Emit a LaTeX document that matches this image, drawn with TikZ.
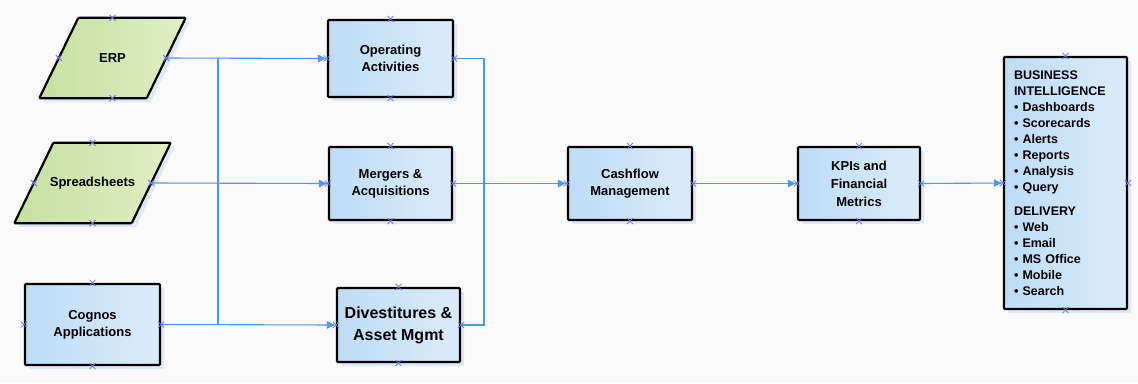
\documentclass[tikz,border=0pt]{standalone}
\usepackage{fontspec}
\setmainfont{Liberation Sans}
\usepackage{tikz}
\usetikzlibrary{arrows.meta,shadows}

\definecolor{bgc}{RGB}{250,250,251}
\definecolor{linkc}{RGB}{74,152,240}
\definecolor{crossc}{RGB}{104,116,232}
\definecolor{boxl}{RGB}{190,220,245}
\definecolor{boxr}{RGB}{218,236,251}
\definecolor{grnl}{RGB}{198,224,160}
\definecolor{grnr}{RGB}{224,238,196}
\definecolor{shadc}{RGB}{204,222,242}

\pgfdeclarelayer{back}
\pgfsetlayers{back,main}

\begin{document}
\begin{tikzpicture}[x=1pt, y=-1pt,
    font=\fontsize{13}{17}\selectfont\bfseries,
    box/.style={draw=black, line width=2.2pt, rounded corners=1pt, align=center,
        left color=boxl, right color=boxr, inner sep=2pt,
        drop shadow={shadow xshift=4pt, shadow yshift=-4pt, fill=shadc, opacity=0.6}},
    para/.style={minimum height=80pt, inner sep=0pt},
    parafill/.style={box, left color=grnl, right color=grnr},
    link/.style={draw=linkc, line width=1.1pt},
    flow/.style={link, -{Latex[length=9pt,width=8pt]}},
    cross/.style={draw=crossc, line width=0.8pt}]
    \useasboundingbox (0,0) rectangle (1138,383);

    \node[para, minimum width=107pt] (erp) at (112.5,58) {ERP};
    \node[para, minimum width=117pt] (sheets) at (92.5,183) {Spreadsheets};
    \node[box, minimum width=135pt, minimum height=81pt] (cog) at (92.5,324.5) {Cognos\\Applications};

    \node[box, minimum width=125pt, minimum height=77pt] (ops) at (390.5,58.5) {Operating\\Activities};
    \node[box, minimum width=123pt, minimum height=73pt] (merg) at (390.5,183.5) {Mergers \&\\Acquisitions};
    \node[box, minimum width=123pt, minimum height=74pt, font=\fontsize{16}{22}\selectfont\bfseries]
        (div) at (398.5,325) {Divestitures \&\\Asset Mgmt};

    \node[box, minimum width=124pt, minimum height=73pt] (cash) at (630,183.5) {Cashflow\\Management};
    \node[box, minimum width=122pt, minimum height=73pt, font=\fontsize{13}{18}\selectfont\bfseries]
        (kpi) at (859,183.5) {KPIs and\\Financial\\Metrics};

    \node[box, minimum width=123pt, minimum height=252pt, text width=103pt, align=left,
        font=\fontsize{12.5}{16}\selectfont\bfseries] (bi) at (1065.5,183)
        {BUSINESS\\INTELLIGENCE\\• Dashboards\\• Scorecards\\• Alerts\\• Reports\\• Analysis\\• Query\\[8pt]
         DELIVERY\\• Web\\• Email\\• MS Office\\• Mobile\\• Search};

    \begin{pgfonlayer}{back}
        \fill[bgc] (0,0) rectangle (1138,383);
        \foreach \n in {erp,sheets}
            \path[parafill] ([xshift=-19.5pt]\n.south west) -- ([xshift=-19.5pt]\n.south east)
                -- ([xshift=19.5pt]\n.north east) -- ([xshift=19.5pt]\n.north west) -- cycle;
    \end{pgfonlayer}

    \coordinate (spl) at (218,0);
    \coordinate (jn) at (484,184);

    \draw[link] (erp.east -| spl) -- (cog.east -| spl);
    \draw[flow] (erp.east) -- (ops.west);
    \draw[flow] (sheets.east) -- (merg.west);
    \draw[flow] (cog.east) -- (div.west);
    \draw[link] (ops.east) -| (jn) |- (div.east);
    \draw[flow] (merg.east) -- (cash.west);
    \draw[flow] (cash.east) -- (kpi.west);
    \draw[flow] (kpi.east) -- (bi.west);

    \foreach \n in {erp,sheets,cog,ops,merg,div,cash,kpi,bi}
        \foreach \a in {north,south,east,west}
            \draw[cross] (\n.\a) +(-3,-3) -- +(3,3) +(-3,3) -- +(3,-3);
\end{tikzpicture}
\end{document}
